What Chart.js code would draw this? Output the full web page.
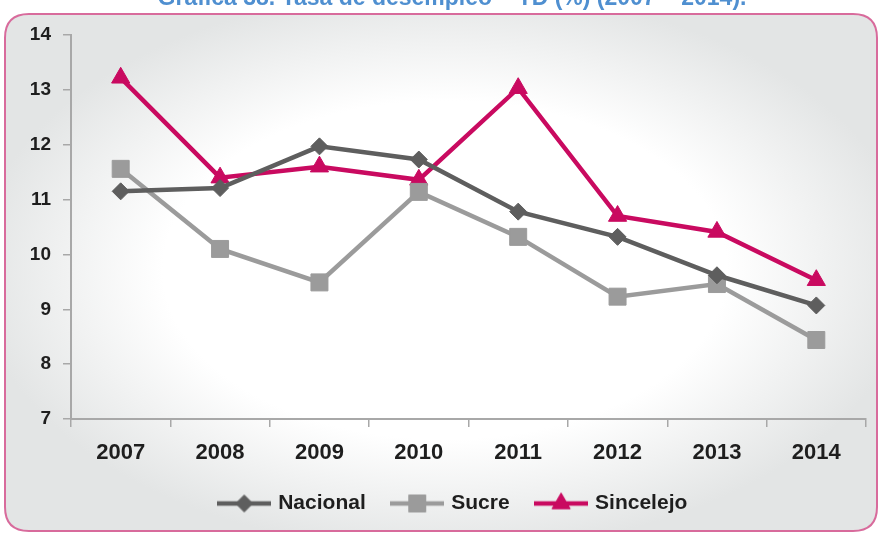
<!DOCTYPE html>
<html><head><meta charset="utf-8">
<script src="https://cdn.jsdelivr.net/npm/chart.js@4/dist/chart.umd.min.js"></script>
<style>html,body{margin:0;padding:0;background:#fff;overflow:hidden}#wrap{width:881px;height:534px;position:relative}</style>
</head><body><div id="wrap"><canvas id="c" width="881" height="534"></canvas></div>
<script>
const chartTitle = 'Gráfica 38. Tasa de desempleo – TD (%) (2007 – 2014).';
const years = ['2007', '2008', '2009', '2010', '2011', '2012', '2013', '2014'];
const seriesNames = ['Nacional', 'Sucre', 'Sincelejo'];
const nacional = [11.15, 11.21, 11.97, 11.73, 10.78, 10.32, 9.62, 9.07];
const sucre = [11.56, 10.10, 9.49, 11.14, 10.32, 9.23, 9.46, 8.44];
const sincelejo = [13.22, 11.40, 11.60, 11.36, 13.03, 10.70, 10.41, 9.53];
const yMin = 7, yMax = 14, yStep = 1;

const colors = { nac: '#5e5e5e', suc: '#9b9b9b', sin: '#c90a60' };
const FONT = "'Liberation Sans', Arial, sans-serif";

function sample(color, style, radius) {
  const cv = document.createElement('canvas');
  cv.width = 54; cv.height = 24;
  const c = cv.getContext('2d');
  c.strokeStyle = color; c.lineWidth = 4.5;
  c.beginPath(); c.moveTo(0, 12); c.lineTo(54, 12); c.stroke();
  c.fillStyle = color; c.strokeStyle = color; c.lineWidth = 1;
  Chart.helpers.drawPoint(c, { pointStyle: style, radius: radius, rotation: 0, borderWidth: 1 }, 27, 12);
  return cv;
}

const bgPlugin = {
  id: 'bg',
  afterLayout(chart) {
    if (chart.legend) { chart.legend.left = 42; }
  },
  beforeDraw(chart) {
    const ctx = chart.ctx;
    ctx.save();
    ctx.fillStyle = '#ffffff';
    ctx.fillRect(0, 0, 881, 534);
    const x = 5, y = 14, w = 872, h = 517, r = 24;
    ctx.beginPath();
    ctx.moveTo(x + r, y);
    ctx.lineTo(x + w - r, y);
    ctx.quadraticCurveTo(x + w, y, x + w, y + r);
    ctx.lineTo(x + w, y + h - r);
    ctx.quadraticCurveTo(x + w, y + h, x + w - r, y + h);
    ctx.lineTo(x + r, y + h);
    ctx.quadraticCurveTo(x, y + h, x, y + h - r);
    ctx.lineTo(x, y + r);
    ctx.quadraticCurveTo(x, y, x + r, y);
    ctx.closePath();
    ctx.save();
    ctx.clip();
    ctx.translate(445, 270);
    ctx.scale(1, 0.6);
    const g = ctx.createRadialGradient(0, 0, 0, 0, 0, 470);
    g.addColorStop(0, '#ffffff');
    g.addColorStop(0.6, '#ffffff');
    g.addColorStop(1, '#e3e5e5');
    ctx.fillStyle = g;
    ctx.fillRect(-600, -600, 1200, 1200);
    ctx.restore();
    ctx.lineWidth = 2;
    ctx.strokeStyle = '#d86b9c';
    ctx.stroke();
    ctx.fillStyle = '#4f8fd0';
    ctx.font = "bold 23px " + FONT;
    ctx.textAlign = 'center';
    ctx.textBaseline = 'alphabetic';
    ctx.fillText(chartTitle, 452, 5);
    ctx.restore();
  }
};

new Chart(document.getElementById('c'), {
  type: 'line',
  data: {
    labels: years,
    datasets: [
      { label: seriesNames[0], data: nacional, borderColor: colors.nac, backgroundColor: colors.nac,
        borderWidth: 4.5, pointStyle: 'rectRot', pointRadius: 8.5, pointBorderWidth: 1, tension: 0 },
      { label: seriesNames[1], data: sucre, borderColor: colors.suc, backgroundColor: colors.suc,
        borderWidth: 4.5, pointStyle: 'rect', pointRadius: 12, pointBorderWidth: 1, tension: 0 },
      { label: seriesNames[2], data: sincelejo, borderColor: colors.sin, backgroundColor: colors.sin,
        borderWidth: 4.5, pointStyle: 'triangle', pointRadius: 10.5, pointBorderWidth: 1, tension: 0 }
    ]
  },
  options: {
    responsive: false,
    animation: false,
    devicePixelRatio: 1,
    layout: { padding: { left: 0, right: 15, top: 35, bottom: 10 } },
    plugins: {
      title: { display: false },
      tooltip: { enabled: false },
      legend: {
        position: 'bottom',
        labels: {
          usePointStyle: true,
          pointStyleWidth: 47,
          padding: 28,
          color: '#1e1e1e',
          font: { family: FONT, weight: 'bold', size: 21 },
          generateLabels(chart) {
            const st = [sample(colors.nac, 'rectRot', 8.5), sample(colors.suc, 'rect', 12), sample(colors.sin, 'triangle', 10.5)];
            return chart.data.datasets.map((d, i) => ({
              text: d.label, pointStyle: st[i], fillStyle: d.borderColor, strokeStyle: d.borderColor,
              lineWidth: 0, hidden: false, datasetIndex: i, fontColor: '#1e1e1e'
            }));
          }
        }
      }
    },
    scales: {
      x: {
        offset: true,
        grid: { offset: true, drawOnChartArea: false, drawTicks: true, tickLength: 8, color: '#a8a8a8', lineWidth: 1.5 },
        border: { display: true, color: '#a8a8a8', width: 2 },
        ticks: { color: '#1e1e1e', font: { family: FONT, weight: 'bold', size: 22 }, padding: 13, maxRotation: 0 },
        afterFit(s) { s.height = 46; }
      },
      y: {
        min: yMin, max: yMax,
        grid: { drawOnChartArea: false, drawTicks: true, tickLength: 8, color: '#a8a8a8', lineWidth: 1.5 },
        border: { display: true, color: '#a8a8a8', width: 2 },
        ticks: { stepSize: yStep, color: '#1e1e1e', font: { family: FONT, weight: 'bold', size: 19 }, padding: 12 },
        afterFit(s) { s.width = 71; }
      }
    }
  },
  plugins: [bgPlugin]
});
</script></body></html>
